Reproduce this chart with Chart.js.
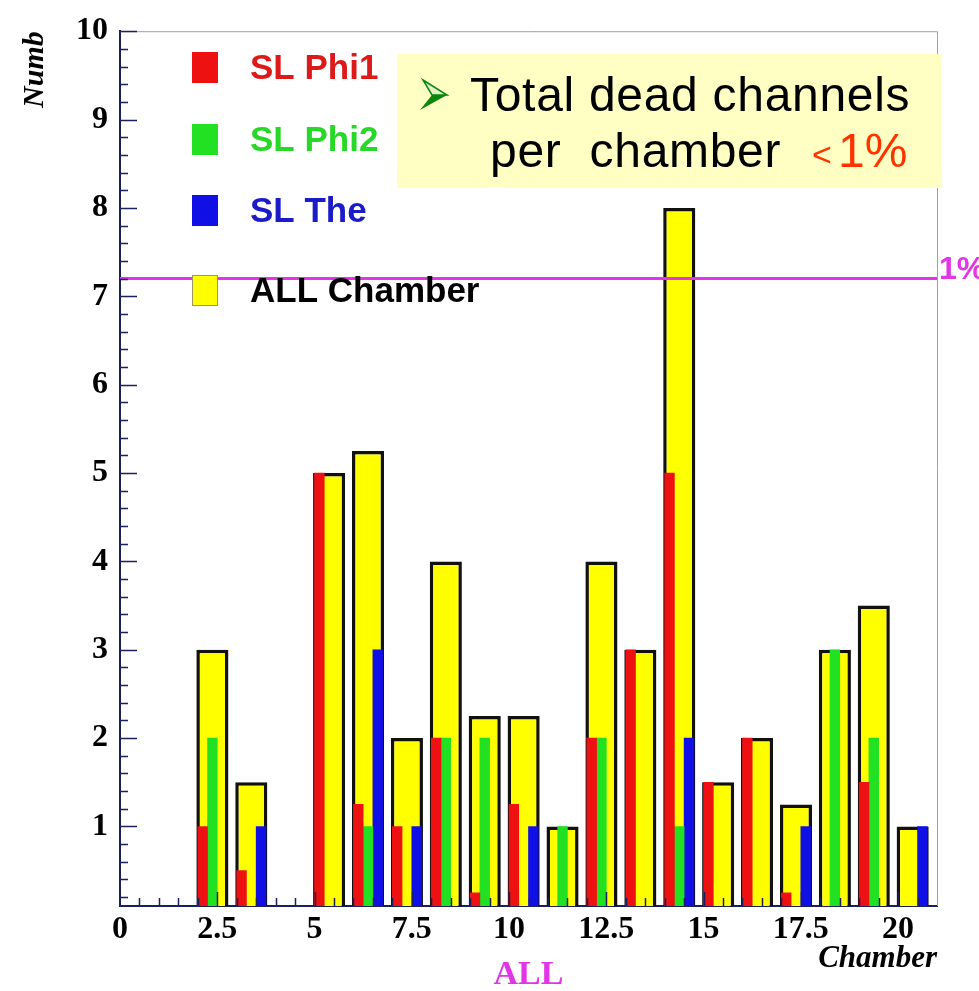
<!DOCTYPE html>
<html lang="en">
<head>
<meta charset="UTF-8" />
<title>Dead channels per chamber</title>
<script src="https://cdn.jsdelivr.net/npm/chart.js"></script>
<style>
    html, body {
        margin: 0;
        padding: 0;
        background: #fff;
    }
    #wrap {
        width: 979px;
        height: 991px;
        position: relative;
    }
</style>
</head>
<body>

<div id="wrap"><canvas id="deadChart"></canvas></div>

<script>
    // chamber bins (each bin is one unit wide, starting at the chamber number)
    const chambers   = [0, 1, 2, 3, 4, 5, 6, 7, 8, 9, 10, 11, 12, 13, 14, 15, 16, 17, 18, 19, 20];
    const slPhi1     = [0, 0, 1, 0.5, 0, 5, 1.25, 1, 2, 0.25, 1.25, 0, 2, 3, 5, 1.5, 2, 0.25, 0, 1.5, 0];
    const slPhi2     = [0, 0, 2, 0, 0, 0, 1, 0, 2, 2, 0, 1, 2, 0, 1, 0, 0, 0, 3, 2, 0];
    const slThe      = [0, 0, 0, 1, 0, 0, 3, 1, 0, 0, 1, 0, 0, 0, 2, 0, 0, 1, 0, 0, 1];
    const allChamber = [0, 0, 3, 1.5, 0, 5, 5.25, 2, 4, 2.25, 2.25, 1, 4, 3, 8, 1.5, 2, 1.25, 3, 3.5, 1];

    const xTicks = [0, 2.5, 5, 7.5, 10, 12.5, 15, 17.5, 20];
    const yTicks = [1, 2, 3, 4, 5, 6, 7, 8, 9, 10];
    const xRange = [0, 21];
    const yRange = [0.1, 10];
    const limitValue = 7.2;   // 1% of the channels

    const SERIF = '"Liberation Serif", "Times New Roman", serif';
    const SANS = '"Liberation Sans", Arial, sans-serif';
    const MAGENTA = '#e235e6';
    const AXIS = '#1b1f5c';

    // sub-bars sit side by side inside the bin, the total bar spans the bin
    function binned(values, offset) {
        return chambers.map((c, i) => ({ x: c + offset, y: values[i] }));
    }

    const decorations = {
        id: 'decorations',
        afterDraw(chart) {
            const { ctx, chartArea: a, scales: { x, y } } = chart;
            ctx.save();

            // thin frame on top and right
            ctx.strokeStyle = '#a0a0a0';
            ctx.lineWidth = 1;
            ctx.beginPath();
            ctx.moveTo(a.left, a.top + 0.5);
            ctx.lineTo(a.right + 0.5, a.top + 0.5);
            ctx.lineTo(a.right + 0.5, a.bottom);
            ctx.stroke();

            // inward tick marks, ROOT style
            ctx.strokeStyle = AXIS;
            ctx.lineWidth = 1.5;
            ctx.beginPath();
            for (let k = 1; k <= 50; k++) {
                const py = Math.round(y.getPixelForValue(k * 0.2)) + 0.5;
                ctx.moveTo(a.left, py);
                ctx.lineTo(a.left + (k % 5 === 0 ? 17 : 8), py);
            }
            for (let k = 1; k < 42; k++) {
                const px = Math.round(x.getPixelForValue(k * 0.5)) + 0.5;
                ctx.moveTo(px, a.bottom);
                ctx.lineTo(px, a.bottom - (k % 5 === 0 ? 14 : 8));
            }
            ctx.stroke();

            // legend in the upper left corner
            const rows = [68, 140, 211, 291];
            const textColors = ['#dc1a1a', '#28d828', '#1b1bc8', '#000'];
            const bars = chart.data.datasets.filter(d => d.type !== 'line');
            ctx.font = 'bold 35px ' + SANS;
            ctx.textBaseline = 'middle';
            ctx.textAlign = 'left';
            bars.forEach((d, i) => {
                const cy = rows[i];
                ctx.fillStyle = d.backgroundColor;
                ctx.fillRect(192, cy - 16, 26, 31);
                if (d.borderWidth) {
                    ctx.strokeStyle = '#9a9a60';
                    ctx.lineWidth = 1;
                    ctx.strokeRect(192.5, cy - 15.5, 25, 30);
                }
                ctx.fillStyle = textColors[i];
                ctx.fillText(d.label, 250, cy + 1);
            });

            // note box
            ctx.fillStyle = '#ffffc4';
            ctx.fillRect(397, 54, 545, 134);

            // arrowhead bullet
            ctx.beginPath();
            ctx.moveTo(423, 80);
            ctx.lineTo(447, 95);
            ctx.lineTo(420, 110);
            ctx.lineTo(432, 95);
            ctx.closePath();
            ctx.fillStyle = '#0d860d';
            ctx.fill();
            ctx.beginPath();
            ctx.moveTo(423, 80);
            ctx.lineTo(447, 95);
            ctx.lineTo(432, 95);
            ctx.closePath();
            ctx.fillStyle = '#dff2c8';
            ctx.fill();
            ctx.strokeStyle = '#0d860d';
            ctx.lineWidth = 1.5;
            ctx.stroke();

            ctx.textBaseline = 'alphabetic';
            ctx.fillStyle = '#000';
            ctx.font = '48px ' + SANS;
            ctx.letterSpacing = '0.7px';
            ctx.fillText('Total dead channels', 470, 111);
            ctx.fillText('per  chamber', 490, 167);
            ctx.fillStyle = '#ff3300';
            ctx.letterSpacing = '0px';
            ctx.font = '34px ' + SANS;
            ctx.fillText('<', 812, 166);
            ctx.font = '48px ' + SANS;
            ctx.fillText('1%', 838, 167);

            // label of the 1% line
            ctx.fillStyle = MAGENTA;
            ctx.font = 'bold 32px ' + SANS;
            ctx.textBaseline = 'middle';
            ctx.fillText('1%', a.right + 2, y.getPixelForValue(limitValue) - 8);

            // histogram option label under the axis
            ctx.font = 'bold 34px ' + SERIF;
            ctx.textAlign = 'center';
            ctx.fillText('ALL', (a.left + a.right) / 2, 975);

            ctx.restore();
        }
    };

    new Chart(document.getElementById('deadChart'), {
        type: 'bar',
        data: {
            datasets: [
                {
                    type: 'line',
                    label: '1%',
                    data: [{ x: xRange[0], y: limitValue }, { x: xRange[1], y: limitValue }],
                    borderColor: MAGENTA,
                    borderWidth: 3,
                    pointRadius: 0,
                    order: 0
                },
                { label: 'SL Phi1', data: binned(slPhi1, 0.125), backgroundColor: '#ee1111', order: 1 },
                { label: 'SL Phi2', data: binned(slPhi2, 0.375), backgroundColor: '#22e022', order: 1 },
                { label: 'SL The', data: binned(slThe, 0.625), backgroundColor: '#1010e6', order: 1 },
                {
                    label: 'ALL Chamber',
                    data: binned(allChamber, 0.375),
                    backgroundColor: '#ffff00',
                    borderColor: '#111',
                    borderWidth: 3.5,
                    barPercentage: 3.3,
                    order: 2
                }
            ]
        },
        options: {
            responsive: true,
            maintainAspectRatio: false,
            animation: false,
            layout: { padding: { top: 23, right: 42, bottom: 0, left: 0 } },
            datasets: {
                bar: {
                    grouped: false,
                    categoryPercentage: 1,
                    barPercentage: 1,
                    base: 0,
                    clip: 0,
                    borderSkipped: 'start'
                }
            },
            plugins: {
                legend: { display: false },
                tooltip: { enabled: false }
            },
            scales: {
                x: {
                    type: 'linear',
                    min: xRange[0],
                    max: xRange[1],
                    offset: false,
                    z: 1,
                    afterBuildTicks: s => { s.ticks = xTicks.map(v => ({ value: v })); },
                    afterFit: s => { s.height = 85; },
                    grid: { display: false, drawTicks: false, offset: false },
                    border: { color: AXIS, width: 2 },
                    ticks: {
                        color: '#000',
                        font: { family: SERIF, size: 32, weight: 'bold' },
                        padding: 5,
                        maxRotation: 0,
                        autoSkip: false,
                        callback: v => String(v)
                    },
                    title: {
                        display: true,
                        text: 'Chamber',
                        align: 'end',
                        color: '#000',
                        font: { family: SERIF, size: 31, weight: 'bold', style: 'italic' },
                        padding: { top: 0, bottom: 13 }
                    }
                },
                y: {
                    type: 'linear',
                    min: yRange[0],
                    max: yRange[1],
                    beginAtZero: false,
                    z: 1,
                    afterBuildTicks: s => { s.ticks = yTicks.map(v => ({ value: v })); },
                    afterFit: s => { s.width = 120; },
                    grid: { display: false, drawTicks: false },
                    border: { color: AXIS, width: 2 },
                    ticks: {
                        color: '#000',
                        font: { family: SERIF, size: 32, weight: 'bold' },
                        padding: 12,
                        callback: v => String(v)
                    },
                    title: {
                        display: true,
                        text: 'Numb',
                        align: 'end',
                        color: '#000',
                        font: { family: SERIF, size: 30, weight: 'bold', style: 'italic' },
                        padding: { top: 17, bottom: 0 }
                    }
                }
            }
        },
        plugins: [decorations]
    });
</script>

</body>
</html>
